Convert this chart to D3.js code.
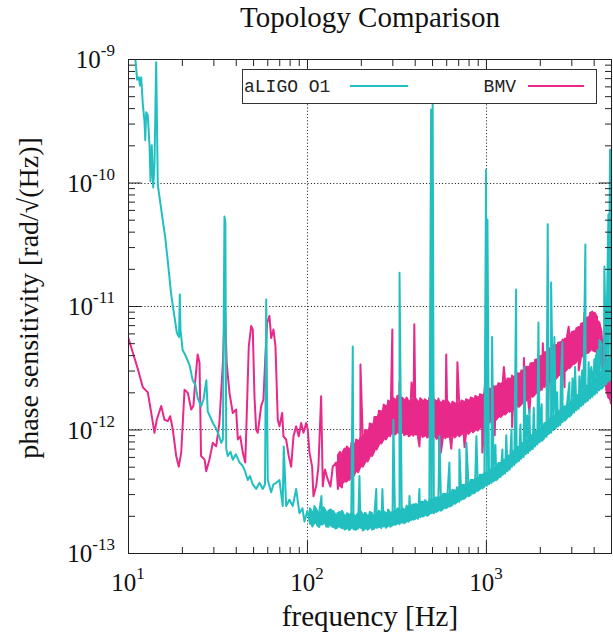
<!DOCTYPE html>
<html><head><meta charset="utf-8">
<script src="https://cdn.jsdelivr.net/npm/d3@7"></script>
<style>body{margin:0;background:#fff}</style>
</head><body><script>
// ---------- text ----------
const chartTitle = "Topology Comparison";
const xLabel = "frequency [Hz]";
const yLabel = "phase sensitivity [rad/\u221A(Hz)]";
const seriesNames = ["aLIGO O1", "BMV"];
const seriesColors = ["#22bfc0", "#e8298a"];

// ---------- ticks ----------
const xMajor = [10, 100, 1000];
const xMinor = [20,30,40,50,60,70,80,90,200,300,400,500,600,700,800,900,2000,3000,4000,5000];
const yMajor = [1e-13, 1e-12, 1e-11, 1e-10, 1e-9];
const yMinor = [2e-13,3e-13,4e-13,5e-13,6e-13,7e-13,8e-13,9e-13,2e-12,3e-12,4e-12,5e-12,6e-12,7e-12,8e-12,9e-12,
                2e-11,3e-11,4e-11,5e-11,6e-11,7e-11,8e-11,9e-11,2e-10,3e-10,4e-10,5e-10,6e-10,7e-10,8e-10,9e-10];
const xGrid = [100, 1000];
const yGrid = [1e-12, 1e-11, 1e-10];

// ---------- aLIGO O1 : low-frequency trace [Hz, rad/sqrt(Hz)] ----------
const aligoLow = [[10.3,1.44e-9],[11.0,9.9e-10],[11.25,6.8e-10],[11.5,7.1e-10],[11.67,6.1e-10],[11.85,7.1e-10],
 [12.1,4.3e-10],[12.37,3.1e-10],[12.48,2.2e-10],[12.64,3.7e-10],[12.9,3.5e-10],[13.19,2.0e-10],[13.36,1.02e-10],
 [13.58,2.0e-10],[13.83,9.1e-11],[14.06,1.4e-10],[14.37,9.4e-10],[14.56,2.2e-10],[14.67,9.6e-11],[15.0,7.6e-11],
 [15.65,4.9e-11],[16.14,3.6e-11],[16.69,2.3e-11],[17.43,1.24e-11],[18.03,8.9e-12],[18.74,6.1e-12],[19.28,5.6e-12],
 [19.47,1.24e-11],[19.65,6.4e-12],[20.2,4.4e-12],[21.1,3.9e-12],[22.1,3.3e-12],[23.0,2.5e-12],[23.8,2.3e-12],
 [24.5,1.8e-12],[25.6,1.54e-12],[26.4,1.75e-12],[27.4,2.5e-12],[27.9,1.4e-12],[28.9,1.25e-12],[29.8,1.13e-12],
 [30.8,1.04e-12],[31.8,9.4e-13],[33.2,7.8e-13],[33.9,8.3e-13],[34.6,5.3e-11],[35.0,4.7e-11],[35.4,7.0e-13],
 [36.1,6.1e-13],[37.4,6.6e-13],[38.5,5.7e-13],[40.1,6.3e-13],[42.0,5.4e-13],[43.6,5.1e-13],[44.8,4.7e-13],
 [46.7,3.9e-13],[48.0,4.2e-13],[49.8,3.6e-13],[52.0,3.3e-13],[54.3,3.7e-13],[56.6,3.3e-13],[58.3,3.6e-13],
 [59.2,1.13e-11],[60.4,3.9e-13],[63.1,3.1e-13],[65.0,3.6e-13],[67.3,3.7e-13],[70.2,3.9e-13],[73.2,2.4e-13],
 [74.2,7.3e-13],[76.5,2.4e-13],[79.8,2.7e-13],[83.3,2.4e-13],[87.0,3.3e-13],[90.8,2.1e-13],[94.4,2.3e-13],
 [96.8,1.8e-13],[100.6,2.2e-13]];

// ---------- aLIGO O1 : noisy band above 100 Hz (upper / lower edge per frequency bin) ----------
const aligoBandFreq = [104,107,110,114,117,121,124,128,132,136,140,144,148,153,157,162,167,172,177,182,188,193,199,205,211,
 218,224,231,238,245,252,260,268,276,284,292,301,310,320,329,339,349,360,370,381,393,405,417,429,442,455,469,483,497,512,528,
 543,560,576,594,611,630,649,668,688,709,730,752,775,798,822,846,872,898,925,953,981,1011,1041,1072,1104,1138,1172,1207,1243,
 1280,1319,1358,1399,1441,1484,1529,1575,1622,1671,1721,1772,1826,1880,1937,1995,2055,2116,2180,2245,2312,2382,2453,2527,2603,
 2681,2761,2844,2929,3017,3108,3201,3297,3396,3498,3603,3711,3822,3937,4055,4176,4302,4431,4564,4700,4841,4987];
const aligoBandHi = [2.3e-13,2.15e-13,2.4e-13,2.2e-13,2.1e-13,2.3e-13,2.35e-13,2.15e-13,2.2e-13,2.25e-13,
 2.2e-13,2.05e-13,2.1e-13,2.15e-13,2.2e-13,2.0e-13,2.1e-13,2.05e-13,2.15e-13,2.1e-13,
 2.0e-13,2.1e-13,2.2e-13,2.05e-13,2.12e-13,2.0e-13,2.15e-13,2.1e-13,2.02e-13,2.12e-13,
 2.2e-13,2.08e-13,2.18e-13,2.1e-13,2.25e-13,2.12e-13,2.22e-13,2.2e-13,2.3e-13,2.22e-13,
 2.32e-13,2.25e-13,2.42e-13,2.32e-13,2.4e-13,2.48e-13,2.5e-13,2.42e-13,2.58e-13,2.6e-13,
 2.68e-13,2.58e-13,2.72e-13,2.78e-13,2.72e-13,2.82e-13,2.9e-13,2.85e-13,3.0e-13,3.0e-13,
 3.1e-13,3.05e-13,3.25e-13,3.2e-13,3.4e-13,3.35e-13,3.55e-13,3.55e-13,3.75e-13,3.7e-13,
 3.9e-13,3.9e-13,4.1e-13,4.1e-13,4.3e-13,4.3e-13,4.6e-13,4.5e-13,4.75e-13,4.75e-13,
 5.0e-13,5.05e-13,5.35e-13,5.35e-13,5.7e-13,5.7e-13,6.1e-13,6.2e-13,6.7e-13,6.7e-13,
 7.2e-13,7.2e-13,7.7e-13,7.8e-13,8.3e-13,8.4e-13,8.9e-13,9.1e-13,9.7e-13,9.8e-13,
 10.4e-13,10.6e-13,11.2e-13,11.4e-13,12.1e-13,12.3e-13,13.0e-13,13.3e-13,14.0e-13,14.3e-13,
 15.2e-13,15.4e-13,16.4e-13,16.6e-13,17.6e-13,17.8e-13,18.9e-13,19.2e-13,20.4e-13,20.8e-13,
 22.2e-13,22.8e-13,24.2e-13,24.8e-13,26.2e-13,27.2e-13,29.2e-13,30.5e-13,33.5e-13,34.5e-13,
 38e-13,40e-13];
const aligoBandLo = [1.72e-13,1.64e-13,1.76e-13,1.68e-13,1.62e-13,1.7e-13,1.74e-13,1.64e-13,1.63e-13,1.68e-13,
 1.62e-13,1.58e-13,1.6e-13,1.63e-13,1.59e-13,1.55e-13,1.58e-13,1.53e-13,1.6e-13,1.56e-13,
 1.54e-13,1.57e-13,1.6e-13,1.52e-13,1.57e-13,1.54e-13,1.6e-13,1.55e-13,1.58e-13,1.6e-13,
 1.62e-13,1.59e-13,1.64e-13,1.6e-13,1.66e-13,1.63e-13,1.68e-13,1.69e-13,1.73e-13,1.71e-13,
 1.76e-13,1.74e-13,1.8e-13,1.79e-13,1.84e-13,1.86e-13,1.9e-13,1.89e-13,1.95e-13,1.97e-13,
 2.02e-13,2.0e-13,2.06e-13,2.1e-13,2.1e-13,2.15e-13,2.2e-13,2.2e-13,2.27e-13,2.3e-13,
 2.35e-13,2.38e-13,2.45e-13,2.5e-13,2.58e-13,2.6e-13,2.7e-13,2.74e-13,2.85e-13,2.88e-13,
 2.95e-13,3.03e-13,3.1e-13,3.18e-13,3.28e-13,3.33e-13,3.45e-13,3.5e-13,3.6e-13,3.68e-13,
 3.8e-13,3.88e-13,4.05e-13,4.12e-13,4.3e-13,4.4e-13,4.6e-13,4.75e-13,5.0e-13,5.15e-13,
 5.4e-13,5.55e-13,5.8e-13,6.0e-13,6.3e-13,6.45e-13,6.75e-13,6.95e-13,7.3e-13,7.55e-13,
 7.9e-13,8.1e-13,8.5e-13,8.75e-13,9.2e-13,9.4e-13,9.9e-13,10.2e-13,10.6e-13,10.9e-13,
 11.5e-13,11.8e-13,12.4e-13,12.7e-13,13.3e-13,13.7e-13,14.3e-13,14.7e-13,15.4e-13,15.9e-13,
 16.6e-13,17.1e-13,17.8e-13,18.4e-13,19.2e-13,19.8e-13,20.8e-13,21.4e-13,22.5e-13,23.2e-13,
 24.5e-13,25e-13];
// ---------- aLIGO O1 : narrow lines ----------
const aligoLines = [[120.5,2.9e-13],[180.3,4.7e-12],[196.5,4.2e-13],[244,3.3e-13],[264,3.3e-13],[304,1.2e-12],
 [329,1.86e-11],[374,2.9e-13],[425,3.3e-13],[494,3.9e-10],[504,4.4e-10],[550,8.8e-13],[625,5.4e-13],[711,6.9e-13],
 [778,7.8e-13],[885,8.8e-13],[1002,1.27e-10],[1020,5e-11],[1083,5.6e-12],[1130,7.5e-13],[1237,6.9e-13],[1300,9e-13],
 [1390,1.0e-12],[1475,1.36e-11],[1560,1.1e-12],[1641,3.2e-12],[1700,1.3e-12],[1750,1.45e-12],[1850,1.5e-12],
 [1965,7.35e-12],[2050,1.6e-12],[2215,4.6e-11],[2313,1.55e-11],[2414,5.6e-12],[2500,2.0e-12],[2620,2.4e-12],
 [2676,5.1e-12],[2928,2.4e-12],[3050,2.6e-12],[3150,3.2e-12],[3329,2.7e-12],[3450,3.0e-12],[3596,3.15e-11],
 [3750,3.5e-12],[3880,3.2e-12],[4037,3.7e-12],[4120,4.0e-12],[4197,4.4e-12],[4305,5.3e-12],[4420,5e-12],
 [4592,2.09e-11],[4720,6e-12],[4835,5.5e-11],[4941,1.85e-10]];

// ---------- BMV : low-frequency trace ----------
const bmvLow = [[10,5.6e-12],[10.64,4.2e-12],[11.34,3.1e-12],[12.1,2.2e-12],[12.9,2.0e-12],[13.48,1.37e-12],
 [14.06,9.4e-13],[14.48,1.2e-12],[15.33,1.55e-12],[15.99,1.2e-12],[16.69,1.17e-12],[17.21,1.28e-12],[17.8,1.0e-12],
 [18.6,6.1e-13],[19.22,5.0e-13],[19.83,6.5e-13],[20.7,2.1e-12],[21.6,1.98e-12],[22.55,1.45e-12],[23.2,1.55e-12],
 [23.8,2.54e-12],[24.5,4.05e-12],[25.1,3.47e-12],[25.6,6.1e-13],[26.8,5.7e-13],[27.35,4.6e-13],[28.5,5.7e-13],
 [29.8,7.8e-13],[31.1,7.3e-13],[32.4,1.13e-12],[33.9,3.47e-12],[34.8,1.0e-11],[35.6,3.47e-12],[36.9,1.98e-12],
 [38.5,1.36e-12],[40.2,1.45e-12],[41.1,8.3e-13],[42.4,8.8e-13],[43.8,6.5e-13],[45.2,5.4e-13],[45.7,8.8e-13],
 [47.3,4.7e-12],[48.8,6.9e-12],[49.8,6.45e-12],[50.9,1.86e-12],[52.0,1.0e-12],[53.1,9.4e-13],[55.5,1.55e-12],
 [57.1,1.75e-12],[58.4,3.57e-12],[59.9,7.3e-12],[61.7,8.3e-12],[63.1,5.5e-12],[65.0,6.45e-12],[66.7,4.7e-12],
 [68.7,1.2e-12],[70.2,1.06e-12],[72.7,1.36e-12],[73.9,8.8e-13],[76.5,8.3e-13],[79.1,6.1e-13],[81.6,5.0e-13],
 [84.1,8.8e-13],[87.0,1.06e-12],[90.0,8.8e-13],[92.8,1.13e-12],[95.6,9.4e-13],[99.0,1.13e-12],[101,1.0e-12],
 [103.3,6.5e-13],[106.9,5.0e-13],[108.7,2.88e-13],[112.6,3.47e-13],[115.9,5.0e-13],[120,1.86e-12],[122.6,3.47e-13],
 [126,4.74e-13],[130.7,3.94e-13],[135.3,3.45e-13],[139.4,5.0e-13],[145.6,5.4e-13]];

// ---------- BMV : noisy band (upper / lower edge per frequency bin) ----------
const bmvBandFreq = [149,153,157,162,167,172,177,182,188,193,199,205,211,218,224,231,238,245,252,260,268,276,284,292,301,
 310,320,329,339,349,360,370,381,393,405,417,429,442,455,469,483,497,512,528,543,560,576,594,611,630,649,668,688,709,730,752,
 775,798,822,846,872,898,925,953,981,1011,1041,1072,1104,1138,1172,1207,1243,1280,1319,1358,1399,1441,1484,1529,1575,1622,
 1671,1721,1772,1826,1880,1937,1995,2055,2116,2180,2245,2312,2382,2453,2527,2603,2681,2761,2844,2929,3017,3108,3201,3297,
 3396,3498,3603,3711,3822,3937,4055,4176,4302,4431,4564,4700,4841,4987];
const bmvBandHi = [6.2e-13,6.6e-13,6.4e-13,7.0e-13,7.3e-13,6.9e-13,7.8e-13,7.6e-13,8.3e-13,8.1e-13,
 8.9e-13,8.8e-13,9.9e-13,9.8e-13,11.2e-13,11.0e-13,12.6e-13,12.6e-13,14.2e-13,14.0e-13,
 15.9e-13,15.4e-13,17.2e-13,16.6e-13,18.2e-13,17.4e-13,18.8e-13,17.8e-13,18.2e-13,17.4e-13,
 18.2e-13,16.9e-13,18.0e-13,17.4e-13,17.8e-13,16.8e-13,17.9e-13,17.2e-13,17.6e-13,17.0e-13,
 18.2e-13,17.0e-13,17.6e-13,17.0e-13,17.8e-13,16.6e-13,17.2e-13,16.6e-13,17.0e-13,16.0e-13,
 16.8e-13,16.3e-13,16.8e-13,16.2e-13,17.2e-13,16.8e-13,17.6e-13,17.2e-13,18.2e-13,17.8e-13,
 18.7e-13,18.2e-13,19.3e-13,19.0e-13,20.3e-13,20.2e-13,21.5e-13,21.2e-13,22.6e-13,22.4e-13,
 23.7e-13,23.5e-13,24.8e-13,24.6e-13,25.9e-13,25.8e-13,27.4e-13,27.0e-13,28.6e-13,28.4e-13,
 30.0e-13,30.2e-13,32.0e-13,32.2e-13,34.2e-13,34.6e-13,36.6e-13,37.0e-13,39.0e-13,39.6e-13,
 42.0e-13,42.4e-13,45.0e-13,45.4e-13,48.0e-13,48.4e-13,50.5e-13,51.0e-13,53.5e-13,54.5e-13,
 57.5e-13,58.5e-13,61.5e-13,62.5e-13,66e-13,67.5e-13,71.5e-13,73e-13,79e-13,81e-13,
 88e-13,90e-13,88e-13,82e-13,74e-13,62e-13,49e-13,40e-13,34e-13,30e-13];
const bmvBandLo = [3.3e-13,3.5e-13,3.4e-13,3.8e-13,3.8e-13,3.9e-13,4.2e-13,4.2e-13,4.6e-13,4.5e-13,
 5.0e-13,5.0e-13,5.4e-13,5.5e-13,6.0e-13,6.1e-13,6.7e-13,6.9e-13,7.5e-13,7.7e-13,
 8.3e-13,8.3e-13,8.9e-13,8.8e-13,9.3e-13,9.1e-13,9.5e-13,9.2e-13,9.4e-13,9.0e-13,
 9.2e-13,8.8e-13,9.1e-13,8.9e-13,9.1e-13,8.7e-13,9.1e-13,8.7e-13,8.9e-13,8.6e-13,
 8.9e-13,8.7e-13,8.8e-13,8.4e-13,8.6e-13,8.4e-13,8.7e-13,8.5e-13,8.7e-13,8.5e-13,
 8.9e-13,8.6e-13,9.0e-13,8.8e-13,9.2e-13,9.0e-13,9.4e-13,9.2e-13,9.7e-13,9.5e-13,
 9.9e-13,9.8e-13,10.3e-13,10.2e-13,10.8e-13,10.8e-13,11.4e-13,11.4e-13,12.0e-13,12.0e-13,
 12.6e-13,12.6e-13,13.2e-13,13.2e-13,13.9e-13,13.9e-13,14.5e-13,14.6e-13,15.2e-13,15.3e-13,
 16.0e-13,16.2e-13,17.0e-13,17.2e-13,18.1e-13,18.4e-13,19.3e-13,19.6e-13,20.6e-13,21.0e-13,
 22.1e-13,22.5e-13,23.7e-13,24.1e-13,25.3e-13,25.6e-13,27.0e-13,27.4e-13,28.8e-13,29.4e-13,
 30.8e-13,31.4e-13,33.0e-13,33.8e-13,35.4e-13,36.4e-13,38.0e-13,39.0e-13,40.8e-13,41.6e-13,
 43.6e-13,44.0e-13,43e-13,40e-13,36e-13,31e-13,25e-13,21e-13,18e-13,16e-13];
// ---------- BMV : narrow lines and dips ----------
const bmvLines = [[199,3.36e-12],[300,6.45e-12],[329,2.4e-12],[384,2.4e-12],[398,7.1e-12],[425,7.3e-13],
 [500,6.1e-12],[550,5.4e-13],[560,6.5e-13],[600,4.05e-12],[640,7e-13],[693,3.5e-12],[760,7.2e-13],[955,6.5e-13],
 [1000,2.9e-12],[1120,9e-13],[1260,3.2e-12],[1400,1.05e-12],[1630,3.8e-12],[1750,1.37e-12],[2080,5.0e-12],
 [2230,1.7e-12],[2750,2.2e-12],[2900,6.8e-12],[3300,3.0e-12],[3550,8.8e-12]];

// ================= drawing =================
const W = 613, H = 633;
const svg = d3.select("body").append("svg").attr("width", W).attr("height", H)
  .style("background", "#fff").style("display","block");

const x = d3.scaleLog().domain([10, 5000]).range([128, 611]);
const y = d3.scaleLog().domain([1e-13, 1e-9]).range([553, 59]);
const L = 128.5, R = 611.5, T = 59.5, B = 553.5;

// trace = single points + per-bin (low,high) pairs, walked alternately
function buildTrace(low, bandF, bandHi, bandLo, lines) {
  const items = [];
  low.forEach(d => items.push({f: d[0], vals: [d[1]]}));
  bandF.forEach((f, i) => items.push({f, vals: [bandLo[i], bandHi[i]], band: true}));
  lines.forEach(d => items.push({f: d[0], vals: [d[1]]}));
  items.sort((a, b) => a.f - b.f);
  const out = []; let flip = false;
  items.forEach(it => {
    const vals = it.band && flip ? it.vals.slice().reverse() : it.vals;
    if (it.band) flip = !flip;
    vals.forEach(v => out.push({f: it.f, v}));
  });
  return out;
}
const aligo = buildTrace(aligoLow, aligoBandFreq, aligoBandHi, aligoBandLo, aligoLines);
const bmv = buildTrace(bmvLow, bmvBandFreq, bmvBandHi, bmvBandLo, bmvLines);
const aligoBand = aligoBandFreq.map((f, i) => ({f, lo: aligoBandLo[i], hi: aligoBandHi[i]}));
const bmvBand = bmvBandFreq.map((f, i) => ({f, lo: bmvBandLo[i], hi: bmvBandHi[i]}));

// grid
const grid = svg.append("g").attr("stroke", "#111").attr("stroke-width", 1).attr("stroke-dasharray", "1,2.2");
grid.selectAll(".gx").data(xGrid).join("line")
  .attr("x1", d => Math.round(x(d)) + 0.5).attr("x2", d => Math.round(x(d)) + 0.5).attr("y1", T).attr("y2", B);
grid.selectAll(".gy").data(yGrid).join("line")
  .attr("y1", d => Math.round(y(d)) + 0.5).attr("y2", d => Math.round(y(d)) + 0.5).attr("x1", L).attr("x2", R);

// data
svg.append("clipPath").attr("id", "clip").append("rect").attr("x", L).attr("y", T).attr("width", R - L).attr("height", B - T);
const line = d3.line().x(d => x(d.f)).y(d => y(d.v));
const area = d3.area().x(d => x(d.f)).y0(d => y(d.lo)).y1(d => y(d.hi));
const dataG = svg.append("g").attr("clip-path", "url(#clip)");
[[bmv, bmvBand, seriesColors[1]], [aligo, aligoBand, seriesColors[0]]].forEach(([s, band, c]) => {
  dataG.append("path").datum(band).attr("d", area).attr("fill", c).attr("stroke", "none");
  dataG.append("path").datum(s).attr("d", line).attr("fill", "none").attr("stroke", c)
    .attr("stroke-width", 2).attr("stroke-linejoin", "round");
});

// axes (inward ticks on all four sides)
function ticks(axisFn, scale, vals, size, tr) {
  svg.append("g").attr("transform", tr)
    .call(axisFn(scale).tickValues(vals).tickSize(size).tickSizeOuter(0).tickFormat(""))
    .call(g => g.select(".domain").remove())
    .call(g => g.selectAll("line").attr("stroke", "#222"));
}
ticks(d3.axisBottom, x, xMajor, -13, `translate(0,${B})`);
ticks(d3.axisBottom, x, xMinor, -6.5, `translate(0,${B})`);
ticks(d3.axisTop, x, xMajor, -13, `translate(0,${T})`);
ticks(d3.axisTop, x, xMinor, -6.5, `translate(0,${T})`);
ticks(d3.axisLeft, y, yMajor, -13, `translate(${L},0)`);
ticks(d3.axisLeft, y, yMinor, -6.5, `translate(${L},0)`);
ticks(d3.axisRight, y, yMajor, -13, `translate(${R},0)`);
ticks(d3.axisRight, y, yMinor, -6.5, `translate(${R},0)`);

svg.append("rect").attr("x", L).attr("y", T).attr("width", R - L).attr("height", B - T)
  .attr("fill", "none").attr("stroke", "#222").attr("stroke-width", 1);

// tick labels
const serif = "'Liberation Serif', 'Times New Roman', serif";
const xl = svg.append("g").selectAll("text").data(xMajor).join("text")
  .attr("x", d => x(d)).attr("y", 591).attr("text-anchor", "middle")
  .style("font-family", serif).style("font-size", "25px").attr("fill", "#111");
xl.append("tspan").text("10");
xl.append("tspan").attr("dy", -12).style("font-size", "17px").text(d => Math.round(Math.log10(d)));

const yl = svg.append("g").selectAll("text").data(yMajor).join("text")
  .attr("x", 115).attr("y", d => y(d) + 9).attr("text-anchor", "end")
  .style("font-family", serif).style("font-size", "25px").attr("fill", "#111");
yl.append("tspan").text("10");
yl.append("tspan").attr("dy", -12).style("font-size", "17px").text(d => String(Math.round(Math.log10(d))));

// titles
svg.append("text").attr("x", (L + R) / 2).attr("y", 27).attr("text-anchor", "middle")
  .style("font-family", serif).style("font-size", "29px").attr("fill", "#111").text(chartTitle);
svg.append("text").attr("x", (L + R) / 2).attr("y", 626).attr("text-anchor", "middle")
  .style("font-family", serif).style("font-size", "29px").attr("fill", "#111").text(xLabel);
svg.append("text").attr("transform", `translate(38,298) rotate(-90)`).attr("text-anchor", "middle")
  .style("font-family", serif).style("font-size", "28px").attr("fill", "#111").text(yLabel);

// legend
const lg = svg.append("g");
lg.append("rect").attr("x", 242.5).attr("y", 69.5).attr("width", 354).attr("height", 34)
  .attr("fill", "#fff").attr("stroke", "#333").attr("stroke-width", 1);
const mono = "'Liberation Mono', 'Courier New', monospace";
lg.append("text").attr("x", 244).attr("y", 92).style("font-family", mono).style("font-size", "18px")
  .attr("fill", "#222").text(seriesNames[0]);
lg.append("line").attr("x1", 350).attr("x2", 408).attr("y1", 86).attr("y2", 86)
  .attr("stroke", seriesColors[0]).attr("stroke-width", 2);
lg.append("text").attr("x", 516).attr("y", 92).attr("text-anchor", "end").style("font-family", mono)
  .style("font-size", "18px").attr("fill", "#222").text(seriesNames[1]);
lg.append("line").attr("x1", 528).attr("x2", 584).attr("y1", 86).attr("y2", 86)
  .attr("stroke", seriesColors[1]).attr("stroke-width", 2);
</script></body></html>
